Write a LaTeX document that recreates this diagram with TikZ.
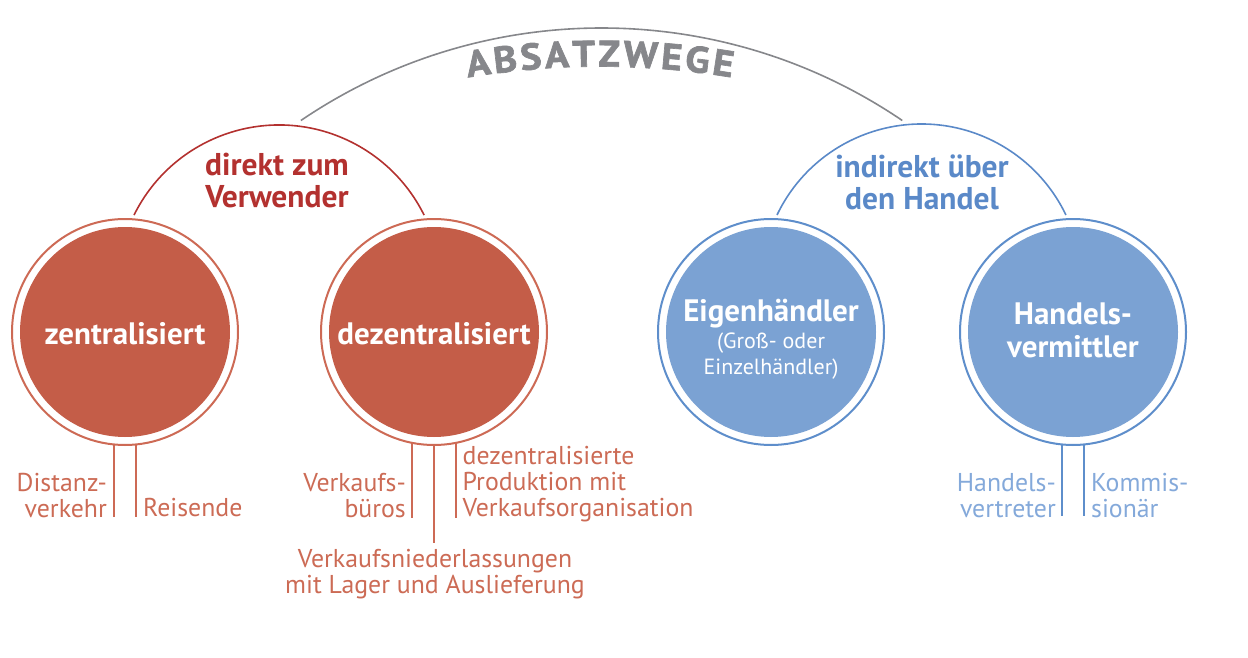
\documentclass[tikz,border=0pt]{standalone}
\usepackage{fontspec}
\setmainfont{PT Sans}
\newfontfamily\titlefont[FakeStretch=1.08,FakeBold=1.8]{PT Sans}
\usetikzlibrary{decorations.text}

\definecolor{absgray}{HTML}{86878B}
\definecolor{hdred}{HTML}{B3312F}
\definecolor{diskred}{HTML}{C45D48}
\definecolor{ringred}{HTML}{CD6A55}
\definecolor{labred}{HTML}{CC6B55}
\definecolor{hdblue}{HTML}{5A89C8}
\definecolor{diskblue}{HTML}{7BA2D3}
\definecolor{ringblue}{HTML}{5E8ECB}
\definecolor{labblue}{HTML}{84A9DA}

\begin{document}
\begin{tikzpicture}[x=1pt,y=1pt,
  ring/.style={circle, draw=#1, line width=2pt, fill=white,
    minimum size=226pt, inner sep=0pt},
  redring/.style={ring=ringred,
    path picture={\fill[diskred] (path picture bounding box.center) circle (105pt);}},
  bluering/.style={ring=ringblue,
    path picture={\fill[diskblue] (path picture bounding box.center) circle (105pt);}},
  circtext/.style={text=white, font=\bfseries\fontsize{31}{33.5}\selectfont,
    align=center, inner sep=0pt},
  subtext/.style={text=white, font=\fontsize{22}{26.3}\selectfont,
    align=center, inner sep=0pt},
  header/.style={text=#1, font=\bfseries\fontsize{31.5}{32}\selectfont,
    align=center, inner sep=0pt},
  lab/.style={text=#1, font=\fontsize{25.8}{26}\selectfont, inner sep=0pt},
  stem/.style={draw=#1, line width=1.6pt},
  arcline/.style={draw=#1, line width=1.6pt},
]
\useasboundingbox (0,0) rectangle (1248,-658);

% arc tops where the branches meet
\coordinate (topred) at (300.9,-120.5);
\coordinate (topblue) at (902.1,-120.5);
\coordinate (redL) at (134,-215.1);
\coordinate (blueL) at (777,-215);
\coordinate (txtL) at (468,-77.5);

% main arc and its curved title
\draw[arcline=absgray] (topred) arc[start angle=124.2, end angle=55.8, radius=535];
\path[decorate, decoration={text along path, text align=fit to path,
    text color=absgray,
    text={|\titlefont\bfseries\fontsize{37}{40}\selectfont|ABSATZWEGE}}]
  (txtL) arc[start angle=99.49, end angle=80.51, radius=800];

% branch arcs
\draw[arcline=hdred] (redL) arc[start angle=153.7, end angle=26.3, radius=161.8];
\draw[arcline=hdblue] (blueL) arc[start angle=154.4, end angle=25.6, radius=160.2];

\node[header=hdred] (hdir) at (277,-181) {direkt zum\\Verwender};
\node[header=hdblue] (hind) at (922,-182) {indirekt über\\den Handel};

% the four circles
\node[redring] (c1) at (125,-332) {};
\node[redring] (c2) at (434,-332) {};
\node[bluering] (c3) at (771,-332) {};
\node[bluering] (c4) at (1073,-332) {};

\node[circtext] (t1) at (125,-334) {zentralisiert};
\node[circtext] (t2) at (434,-334) {dezentralisiert};
\node[circtext] (t3) at (771,-314) {Eigenhändler};
\node[subtext] (t3s) at (771,-356) {(Groß- oder\\Einzelhändler)};
\node[circtext] (t4) at (1073,-330.5) {Handels-\\vermittler};

% stem ends
\coordinate (d1a) at (114,-517);
\coordinate (d1b) at (136,-517);
\coordinate (d2a) at (412,-518);
\coordinate (d2b) at (434,-543);
\coordinate (d2c) at (456,-518);
\coordinate (d4a) at (1062,-516);
\coordinate (d4b) at (1084,-516);

\draw[stem=ringred] ([xshift=-11pt,yshift=1.5pt]c1.south) -- (d1a);
\draw[stem=ringred] ([xshift=11pt,yshift=1.5pt]c1.south) -- (d1b);
\draw[stem=ringred] ([xshift=-22pt,yshift=3pt]c2.south) -- (d2a);
\draw[stem=ringred] ([yshift=1pt]c2.south) -- (d2b);
\draw[stem=ringred] ([xshift=22pt,yshift=3pt]c2.south) -- (d2c);
\draw[stem=ringblue] ([xshift=-11pt,yshift=1.5pt]c4.south) -- (d4a);
\draw[stem=ringblue] ([xshift=11pt,yshift=1.5pt]c4.south) -- (d4b);

% labels under the circles
\node[lab=labred, anchor=east, align=right] (l1a) at (107,-496) {Distanz-\\verkehr};
\node[lab=labred, anchor=west] (l1b) at (143,-508) {Reisende};
\node[lab=labred, anchor=east, align=right] (l2a) at (406,-496) {Verkaufs-\\büros};
\node[lab=labred, anchor=west, align=left] (l2c) at (462.5,-484)
  {dezentralisierte\\Produktion mit\\Verkaufsorganisation};
\node[lab=labred, anchor=north, align=center] (l2b) at (435,-549)
  {Verkaufsniederlassungen\\mit Lager und Auslieferung};
\node[lab=labblue, anchor=east, align=right] (l4a) at (1056,-496) {Handels-\\vertreter};
\node[lab=labblue, anchor=west, align=left] (l4b) at (1091,-496) {Kommis-\\sionär};
\end{tikzpicture}
\end{document}
